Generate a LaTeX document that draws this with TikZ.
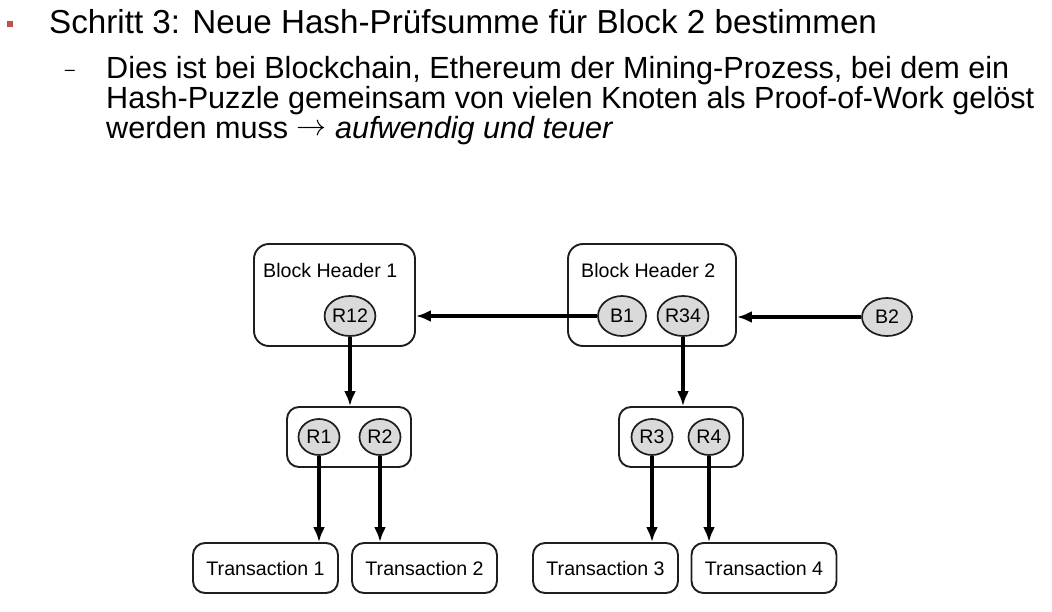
\documentclass[tikz,border=0pt]{standalone}
\usepackage{fontspec}
\setmainfont{Liberation Sans}
\usetikzlibrary{arrows.meta,shapes.geometric}
\definecolor{bulletred}{RGB}{192,80,77}
\definecolor{hashfill}{RGB}{218,218,218}
\definecolor{linecol}{RGB}{30,30,30}
\begin{document}
\begin{tikzpicture}[x=1pt,y=-1pt,
  titletxt/.style={anchor=base west, inner sep=0pt, font=\fontsize{33.2}{40}\selectfont},
  subtxt/.style={anchor=base west, inner sep=0pt, text height=22pt, text depth=5pt,
    font=\fontsize{30.6}{36}\selectfont},
  block/.style={draw=linecol, line width=1.9pt, rounded corners=15pt, inner sep=0pt},
  smallblock/.style={draw=linecol, line width=1.9pt, rounded corners=12pt, inner sep=0pt},
  hash/.style={ellipse, draw=linecol, fill=hashfill, line width=1.7pt, inner sep=0pt,
    font=\fontsize{19.6}{22}\selectfont},
  lbl/.style={anchor=base west, inner sep=0pt, font=\fontsize{19.6}{22}\selectfont},
  trans/.style={smallblock, minimum width=145pt, minimum height=50pt,
    font=\fontsize{19.6}{22}\selectfont},
  conn/.style={line width=3.2pt, draw=black, -{Latex[length=15pt,width=12pt]}}
]
\useasboundingbox (0,0) rectangle (1052,612);

% header text
\node[fill=bulletred, minimum size=6pt, inner sep=0pt] (bullet) at (10,24) {};
\node[titletxt] (title) at (49,34) {Schritt 3: Neue Hash-Prüfsumme für Block 2 bestimmen};
\node[anchor=base, inner sep=0pt, font=\fontsize{18}{20}\selectfont] (dash) at (70,75.6) {–};
\node[subtxt] (l1) at (106,79) {Dies ist bei Blockchain, Ethereum der Mining-Prozess, bei dem ein};
\node[subtxt] (l2) at (106,109) {Hash-Puzzle gemeinsam von vielen Knoten als Proof-of-Work gelöst};
\node[subtxt] (l3) at (106,139) {werden muss \raisebox{3.5pt}{\resizebox{30pt}{!}{$\rightarrow$}} \textit{aufwendig und teuer}};

% block headers
\node[block, minimum width=161pt, minimum height=102pt] (bh1) at (334.5,295) {};
\node[lbl] (bh1lbl) at (263,278) {Block Header 1};
\node[hash, minimum width=48pt, minimum height=40pt] (r12) at (350,316) {R12};

\node[block, minimum width=168pt, minimum height=102pt] (bh2) at (652,295) {};
\node[lbl] (bh2lbl) at (581,278) {Block Header 2};
\node[hash, minimum width=48pt, minimum height=40pt] (b1) at (622,316) {B1};
\node[hash, minimum width=48pt, minimum height=40pt] (r34) at (683,316) {R34};

\node[hash, minimum width=50pt, minimum height=38pt] (b2) at (887,317) {B2};

% intermediate boxes
\node[smallblock, minimum width=124pt, minimum height=60pt] (box12) at (349,437) {};
\node[hash, minimum width=41pt, minimum height=36pt] (r1) at (319,437) {R1};
\node[hash, minimum width=41pt, minimum height=36pt] (r2) at (380,437) {R2};

\node[smallblock, minimum width=124pt, minimum height=60pt] (box34) at (681,437) {};
\node[hash, minimum width=41pt, minimum height=36pt] (r3) at (652,437) {R3};
\node[hash, minimum width=41pt, minimum height=36pt] (r4) at (709,437) {R4};

% transactions
\node[trans] (t1) at (265.5,568) {Transaction 1};
\node[trans] (t2) at (424.5,568) {Transaction 2};
\node[trans] (t3) at (605.5,568) {Transaction 3};
\node[trans] (t4) at (764,568) {Transaction 4};

% connectors
\draw[conn] (b1.west) -- (b1.west -| bh1.east);
\draw[conn] (b2.west) -- (b2.west -| bh2.east);
\draw[conn] (r12.south) -- (r12.south |- box12.north);
\draw[conn] (r34.south) -- (r34.south |- box34.north);
\draw[conn] (r1.south) -- (r1.south |- t1.north);
\draw[conn] (r2.south) -- (r2.south |- t2.north);
\draw[conn] (r3.south) -- (r3.south |- t3.north);
\draw[conn] (r4.south) -- (r4.south |- t4.north);
\end{tikzpicture}
\end{document}
